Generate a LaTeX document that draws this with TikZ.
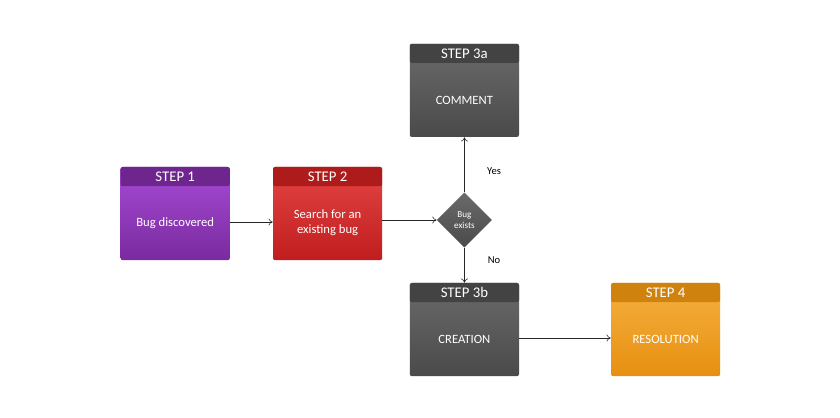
\documentclass[tikz,border=0pt]{standalone}
\usepackage{fontspec}
\setmainfont{Carlito}
\usetikzlibrary{shapes.geometric,arrows.meta}
\definecolor{purpleA}{HTML}{A64BD6}
\definecolor{purpleB}{HTML}{7A2A9E}
\definecolor{redA}{HTML}{E44444}
\definecolor{redB}{HTML}{C01E1E}
\definecolor{grayA}{HTML}{6A6A6A}
\definecolor{grayB}{HTML}{4A4A4A}
\definecolor{orangeA}{HTML}{F6B040}
\definecolor{orangeB}{HTML}{E69010}
\tikzset{
  stepbody/.style={minimum width=2.73cm,minimum height=2.33cm,inner sep=0pt,
    rounded corners=1.5pt,text=white,font=\fontsize{9}{11}\selectfont,align=center},
  stephead/.style={minimum width=2.73cm,minimum height=0.48cm,inner sep=0pt,
    rounded corners=1.5pt,text=white,font=\fontsize{10.5}{12}\selectfont,anchor=north},
  link/.style={-{To[length=3pt,width=5pt]},thin,black!85}
}
\newcommand{\stepbox}[6]{%
  \node[stepbody,top color=#4A,bottom color=#4B] (#1) at (#2,#3) {#6};
  \node[stephead,fill=#4B!90!black] (#1h) at (#1.north) {#5};
}
\begin{document}
\begin{tikzpicture}
  \useasboundingbox[fill=white] (0,0) rectangle (21,10.45);
  \stepbox{discover}{4.38}{5.11}{purple}{STEP 1}{\\[0.3cm]Bug discovered}
  \stepbox{search}{8.19}{5.11}{red}{STEP 2}{\\[0.3cm]Search for an\\existing bug}
  \stepbox{comment}{11.61}{8.19}{gray}{STEP 3a}{\\[0.3cm]COMMENT}
  \stepbox{creation}{11.61}{2.21}{gray}{STEP 3b}{\\[0.3cm]CREATION}
  \stepbox{resolve}{16.64}{2.21}{orange}{STEP 4}{\\[0.3cm]RESOLUTION}

  \node[diamond,minimum width=1.38cm,minimum height=1.38cm,inner sep=0pt,
    top color=grayA,bottom color=grayB,text=white,align=center,
    font=\fontsize{6.5}{7.5}\selectfont] (exists) at (11.61,4.95) {Bug\\exists};

  \draw[link] (discover.east |- 0,4.9) -- (search.west |- 0,4.9);
  \draw[link] (search.east |- exists) -- (exists.west);
  \draw[link] (exists.north) -- (comment.south);
  \draw[link] (exists.south) -- (creationh.north);
  \draw[link] (creation.east |- 0,2.0) -- (resolve.west |- 0,2.0);

  \node[font=\fontsize{7.5}{9}\selectfont] (yes) at (12.35,6.17) {Yes};
  \node[font=\fontsize{7.5}{9}\selectfont] (no) at (12.35,3.95) {No};
\end{tikzpicture}
\end{document}
